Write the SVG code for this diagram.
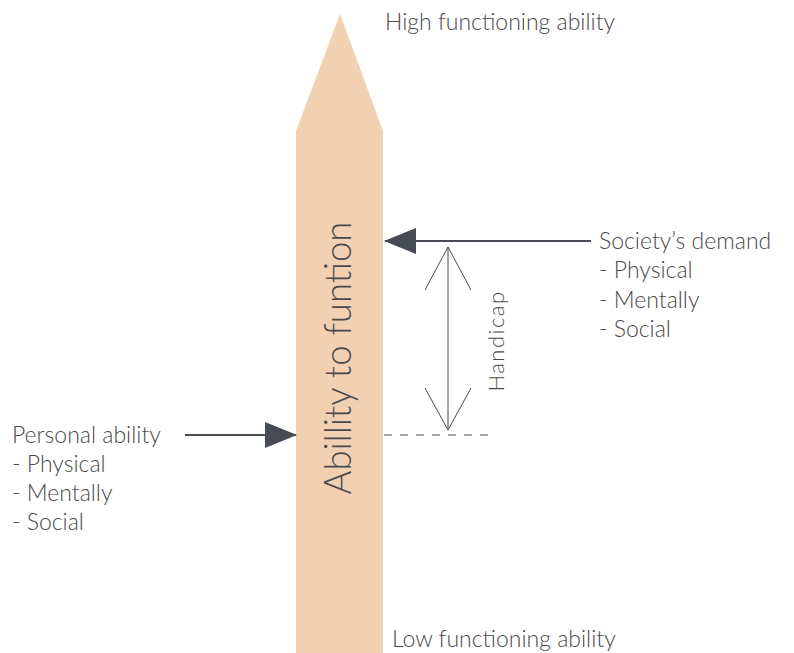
<svg xmlns="http://www.w3.org/2000/svg" width="794" height="653" viewBox="0 0 794 653">
<style>
text{font-family:Lato,"Open Sans","Liberation Sans",sans-serif;font-weight:300;fill:#4a4a4a}
.lbl{font-size:23px}
.conn{stroke:#474b53;stroke-width:2;fill:none}
.thin{stroke:#474b53;stroke-width:1;fill:none}
</style>
<defs>
<marker id="tri" markerWidth="32" markerHeight="26" refX="31" refY="13" orient="auto" markerUnits="userSpaceOnUse">
<path d="M0,0 L32,13 L0,26 Z" fill="#474b53"/>
</marker>
</defs>
<rect width="794" height="653" fill="#ffffff"/>
<g id="pillar">
<path d="M296,131 L340,14 L383,131 L383,653 L296,653 Z" fill="#f2d1b3"/>
<text transform="translate(351,358) rotate(-90)" text-anchor="middle" font-size="36.5">Abillity to funtion</text>
</g>
<g id="high"><text class="lbl" x="385" y="30">High functioning ability</text></g>
<g id="low"><text class="lbl" x="392" y="647">Low functioning ability</text></g>
<g id="society">
<text class="lbl" x="599" y="249">Society’s demand</text>
<text class="lbl" x="599" y="278">- Physical</text>
<text class="lbl" x="599" y="308">- Mentally</text>
<text class="lbl" x="599" y="337">- Social</text>
</g>
<g id="personal">
<text class="lbl" x="12" y="443">Personal ability</text>
<text class="lbl" x="12" y="472">- Physical</text>
<text class="lbl" x="12" y="501">- Mentally</text>
<text class="lbl" x="12" y="530">- Social</text>
</g>
<g id="handicap"><text transform="translate(504,341) rotate(-90)" text-anchor="middle" font-size="22" letter-spacing="1.5">Handicap</text></g>
<g id="connectors">
<line class="conn" x1="591" y1="241" x2="385" y2="241" marker-end="url(#tri)"/>
<line class="conn" x1="185" y1="435" x2="296" y2="435" marker-end="url(#tri)"/>
<line class="thin" x1="448" y1="247" x2="448" y2="430"/>
<polyline class="thin" points="425,290 448,247 471,290"/>
<polyline class="thin" points="425,388 448,430 471,388"/>
<line class="thin" x1="384" y1="435" x2="488" y2="435" stroke-dasharray="8,8"/>
</g>
</svg>
